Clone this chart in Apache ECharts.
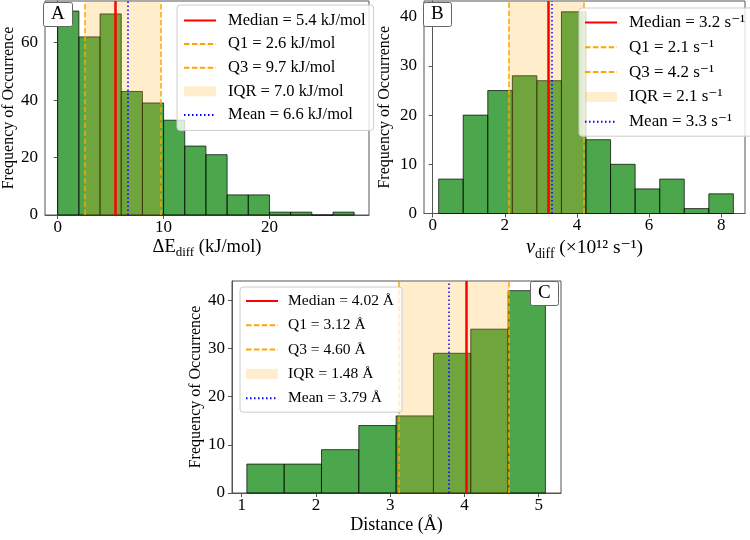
<!DOCTYPE html>
<html>
<head>
<meta charset="utf-8">
<title>Histograms</title>
<script src="https://cdn.jsdelivr.net/npm/echarts@6/dist/echarts.min.js"></script>
<style>
html, body { margin: 0; padding: 0; background: #fff; }
#chart { width: 750px; height: 540px; }
</style>
</head>
<body>
<div id="chart"></div>
<script>
// panel A: energy difference
const aEdges = [0, 2, 4, 6, 8, 10, 12, 14, 16, 18, 20, 22, 24, 26, 28];
const aCounts = [71, 62, 70, 43, 39, 33, 24, 21, 7, 7, 1, 1, 0, 1];
const aStats = [5.4, 2.6, 9.7, 6.6]; // median, q1, q3, mean
const aLegend = ['Median = 5.4 kJ/mol', 'Q1 = 2.6 kJ/mol', 'Q3 = 9.7 kJ/mol', 'IQR = 7.0 kJ/mol', 'Mean = 6.6 kJ/mol'];
const aXTicks = [0, 10, 20];
const aYTicks = [0, 20, 40, 60];

// panel B: frequency
const bEdges = [0.166, 0.847, 1.528, 2.209, 2.890, 3.571, 4.252, 4.933, 5.614, 6.295, 6.976, 7.657, 8.338];
const bCounts = [7, 20, 25, 28, 27, 41, 15, 10, 5, 7, 1, 4];
const bStats = [3.2, 2.1, 4.2, 3.3];
const bLegend = ['Median = 3.2 s⁻¹', 'Q1 = 2.1 s⁻¹', 'Q3 = 4.2 s⁻¹', 'IQR = 2.1 s⁻¹', 'Mean = 3.3 s⁻¹'];
const bXTicks = [0, 2, 4, 6, 8];
const bYTicks = [0, 10, 20, 30, 40];

// panel C: distance
const cEdges = [1.07, 1.5725, 2.075, 2.5775, 3.08, 3.5825, 4.085, 4.5875, 5.09];
const cCounts = [6, 6, 9, 14, 16, 29, 34, 42];
const cStats = [4.02, 3.12, 4.60, 3.79];
const cLegend = ['Median = 4.02 Å', 'Q1 = 3.12 Å', 'Q3 = 4.60 Å', 'IQR = 1.48 Å', 'Mean = 3.79 Å'];
const cXTicks = [1, 2, 3, 4, 5];
const cYTicks = [0, 10, 20, 30, 40];

const SERIF = "'Liberation Serif', 'DejaVu Serif', serif";
const AXIS = '#555';
const IQR_COLOR = 'rgba(255,165,0,0.2)';
const DASH = [5.5, 2.4];
const DOT = [1.5, 2.5];

const chart = echarts.init(document.getElementById('chart'));

function renderBin(params, api) {
  const top = api.coord([api.value(0), api.value(2)]);
  const base = api.coord([api.value(1), 0]);
  return {
    type: 'rect',
    shape: { x: top[0], y: top[1], width: base[0] - top[0], height: base[1] - top[1] },
    style: { fill: 'rgba(0,128,0,0.7)', stroke: 'rgba(0,0,0,0.7)', lineWidth: 1 }
  };
}

function vline(name, idx, value, color, width, type) {
  return {
    name: name,
    type: 'line',
    xAxisIndex: idx,
    yAxisIndex: idx,
    data: [],
    symbol: 'none',
    color: color,
    lineStyle: { color: color, width: width, type: type },
    z: 4,
    markLine: {
      silent: true,
      z: 6,
      symbol: ['none', 'none'],
      label: { show: false },
      lineStyle: { color: color, width: width, type: type },
      data: [{ xAxis: value }]
    }
  };
}

function panelSeries(idx, edges, counts, stats, names) {
  const bins = counts.map((c, i) => [edges[i], edges[i + 1], c]);
  return [
    {
      name: 'hist' + idx,
      type: 'custom',
      xAxisIndex: idx,
      yAxisIndex: idx,
      renderItem: renderBin,
      encode: { x: [0, 1], y: 2 },
      data: bins,
      z: 2
    },
    vline(names[0], idx, stats[0], '#ff0000', 2.5, 'solid'),
    vline(names[1], idx, stats[1], '#ffa500', 1.5, DASH),
    vline(names[2], idx, stats[2], '#ffa500', 1.5, DASH),
    {
      name: names[3],
      type: 'line',
      xAxisIndex: idx,
      yAxisIndex: idx,
      data: [],
      symbol: 'none',
      color: IQR_COLOR,
      lineStyle: { width: 0 },
      z: 3,
      markArea: {
        silent: true,
        z: 5,
        itemStyle: { color: IQR_COLOR },
        data: [[{ xAxis: stats[1] }, { xAxis: stats[2] }]]
      }
    },
    vline(names[4], idx, stats[3], '#0000ff', 1.5, DOT)
  ];
}

function xAxis(idx, min, max, ticks, name, gap, fs) {
  return {
    gridIndex: idx,
    type: 'value',
    min: min,
    max: max,
    axisLine: { show: true, onZero: false, lineStyle: { color: AXIS } },
    axisTick: { show: true, length: 4, customValues: ticks, lineStyle: { color: AXIS } },
    axisLabel: { customValues: ticks, margin: 4, fontFamily: SERIF, fontSize: 17, color: '#000' },
    splitLine: { show: false },
    name: name,
    nameLocation: 'middle',
    nameGap: gap,
    nameTextStyle: {
      fontFamily: SERIF, fontSize: fs, color: '#000',
      rich: {
        s: { fontFamily: SERIF, fontSize: fs * 0.7, color: '#000', verticalAlign: 'bottom', lineHeight: fs + 7 },
        i: { fontFamily: SERIF, fontSize: fs + 1, fontStyle: 'italic', color: '#000' }
      }
    }
  };
}

function yAxis(idx, max, ticks, gap) {
  return {
    gridIndex: idx,
    type: 'value',
    min: 0,
    max: max,
    axisLine: { show: true, lineStyle: { color: AXIS } },
    axisTick: { show: true, length: 4, customValues: ticks, lineStyle: { color: AXIS } },
    axisLabel: { customValues: ticks, margin: 7, fontFamily: SERIF, fontSize: 17, color: '#000' },
    splitLine: { show: false },
    name: 'Frequency of Occurrence',
    nameLocation: 'middle',
    nameGap: gap,
    nameTextStyle: { fontFamily: SERIF, fontSize: 16, color: '#000' }
  };
}

function legend(names, left, top, gap, pad, textPad, textWidth, fs) {
  const hidden = { color: 'transparent', borderColor: 'transparent', borderWidth: 0 };
  return {
    data: names.map((n, i) => (i === 3 ? { name: n, icon: 'rect' } : { name: n, itemStyle: hidden })),
    orient: 'vertical',
    left: left,
    top: top,
    itemWidth: 32,
    itemHeight: 10,
    itemGap: gap,
    padding: pad,
    backgroundColor: 'rgba(255,255,255,0.8)',
    borderColor: '#cccccc',
    borderWidth: 1,
    borderRadius: 3,
    selectedMode: false,
    z: 10,
    textStyle: { fontFamily: SERIF, fontSize: fs, color: '#000', lineHeight: 15, width: textWidth, padding: [0, 0, 0, textPad] }
  };
}

function letter(text, left, top) {
  return {
    text: text,
    left: left,
    top: top,
    padding: [3, 8],
    backgroundColor: '#fff',
    borderColor: '#666',
    borderWidth: 1,
    borderRadius: 2,
    z: 12,
    textStyle: { fontFamily: SERIF, fontSize: 19, fontWeight: 'normal', color: '#000', lineHeight: 19 }
  };
}

const option = {
  backgroundColor: '#fff',
  animation: false,
  title: [letter('A', 43, 2), letter('B', 423, 2), letter('C', 530, 281)],
  grid: [
    { left: 45, top: 1, width: 324, height: 214, show: true, borderColor: AXIS, borderWidth: 1, backgroundColor: 'transparent' },
    { left: 424, top: 1, width: 321, height: 212.5, show: true, borderColor: AXIS, borderWidth: 1, backgroundColor: 'transparent' },
    { left: 232, top: 281, width: 329, height: 212, show: true, borderColor: AXIS, borderWidth: 1, backgroundColor: 'transparent' }
  ],
  xAxis: [
    xAxis(0, -1.2, 29.4, aXTicks, 'ΔE{s|diff} (kJ/mol)', 19, 18.5),
    xAxis(1, -0.24, 8.66, bXTicks, '{i|ν}{s|diff} (×10¹² s⁻¹)', 21, 19.5),
    xAxis(2, 0.87, 5.3, cXTicks, 'Distance (Å)', 23, 18)
  ],
  yAxis: [
    yAxis(0, 74.5, aYTicks, 28),
    yAxis(1, 43.2, bYTicks, 31),
    yAxis(2, 44.0, cYTicks, 28)
  ],
  legend: [
    legend(aLegend, 177, 5, 6.6, [7, 8, 7, 6], 7, 133, 16.5),
    legend(bLegend, 579, 8, 7.8, [6, 8, 6, 5], 7, 108, 17),
    legend(cLegend, 240, 287, 8.3, [6, 8, 6, 5], 5, 98, 15.5)
  ],
  series: [].concat(
    panelSeries(0, aEdges, aCounts, aStats, aLegend),
    panelSeries(1, bEdges, bCounts, bStats, bLegend),
    panelSeries(2, cEdges, cCounts, cStats, cLegend)
  )
};

chart.setOption(option);
</script>
</body>
</html>
